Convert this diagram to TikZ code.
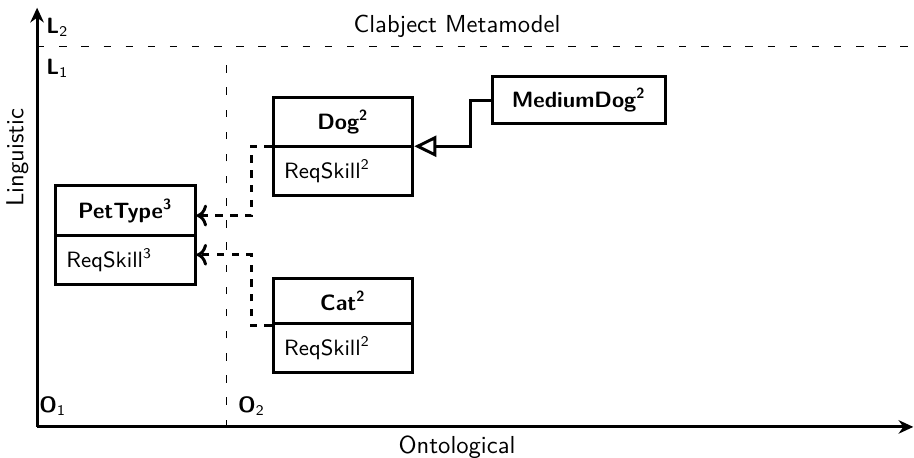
\documentclass[tikz,border=0pt]{standalone}
\usetikzlibrary{arrows.meta, positioning, shapes.multipart}

\begin{document}
\begin{tikzpicture}[font=\sffamily,
		clabject/.style={rectangle split, rectangle split parts=2, draw, very thick, inner sep=4.5pt, text width=1.68cm, align=left, font=\sffamily\small},
		single/.style={draw, very thick, inner sep=4.5pt, minimum width=2.47cm, font=\sffamily\small},
		level/.style={anchor=base west, font=\sffamily\small},
		axis/.style={-{Stealth[length=6pt, width=5.5pt]}, very thick},
		inst/.style={->, very thick, dashed},
		gen/.style={-{Triangle[open, length=9pt, width=8.5pt]}, very thick}]
		\useasboundingbox (-0.53,-0.44) rectangle (12.53,6.1);

		% axes
		\draw[axis] (0,0) -- (12.52,0);
		\draw[axis] (0,0) -- (0,5.99);
		\node[below] (onto) at (6,0) {Ontological};
		\node[rotate=90, anchor=south] (ling) at (0,3.85) {Linguistic};

		% levels
		\draw[loosely dashed] (0,5.44) -- (12.53,5.44);
		\draw[loosely dashed] (2.71,0) -- (2.71,5.27);
		\node[above] (meta) at (6,5.44) {Clabject Metamodel};
		\node[level] (l2) at (0.01,5.62) {\textbf{L}\textsubscript{2}};
		\node[level] (l1) at (0.01,5.03) {\textbf{L}\textsubscript{1}};
		\node[level] (o1) at (-0.09,0.2) {\textbf{O}\textsubscript{1}};
		\node[level] (o2) at (2.75,0.2) {\textbf{O}\textsubscript{2}};

		% clabjects
		\node[clabject] (pet) at (1.26,2.74) {\hfill\textbf{PetType\textsuperscript{3}}\hfill\null\nodepart{two}ReqSkill\textsuperscript{3}};
		\node[clabject] (dog) at (4.37,4.01) {\hfill\textbf{Dog\textsuperscript{2}}\hfill\null\nodepart{two}ReqSkill\textsuperscript{2}};
		\node[clabject] (cat) at (4.37,1.45) {\hfill\textbf{Cat\textsuperscript{2}}\hfill\null\nodepart{two}ReqSkill\textsuperscript{2}};
		\node[single] (mdog) at (7.74,4.67) {\textbf{MediumDog\textsuperscript{2}}};

		\draw[gen] (mdog.west) -- ++(-0.29,0) |- (dog.east);
		\draw[inst] (dog.west) -- ++(-0.29,0) |- ([yshift=0.28cm]pet.east);
		\draw[inst] (cat.west) -- ++(-0.29,0) |- ([yshift=-0.28cm]pet.east);
	\end{tikzpicture}
\end{document}
